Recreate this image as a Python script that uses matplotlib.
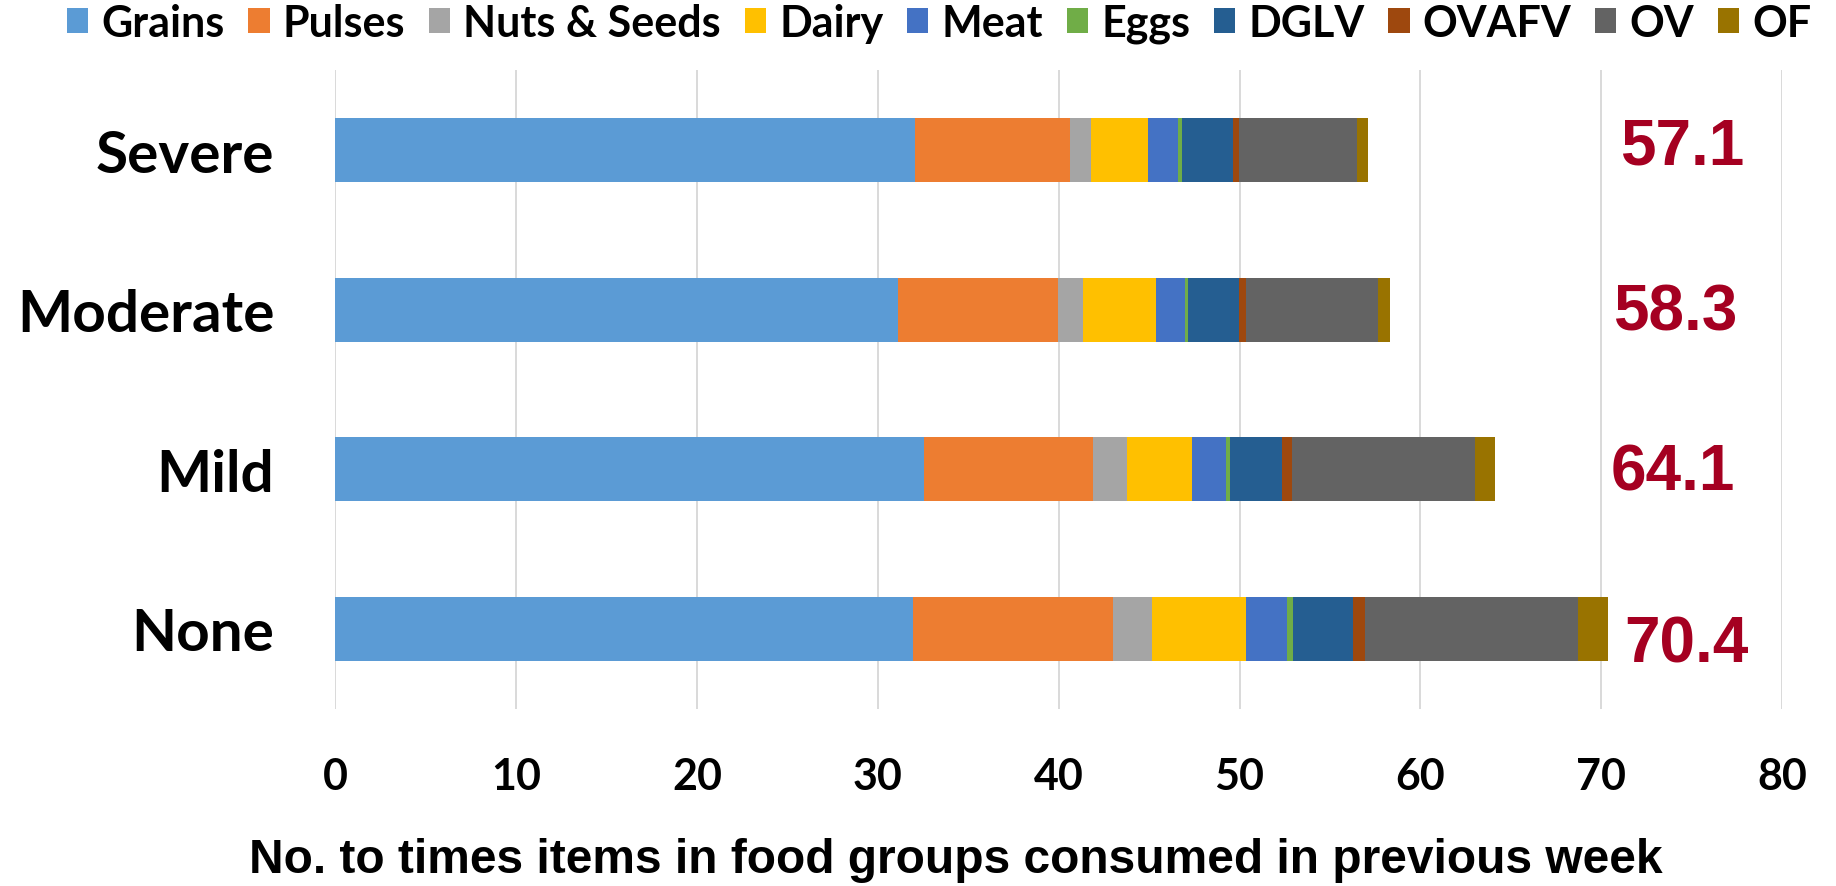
import numpy as np
import matplotlib
matplotlib.use('Agg')
import matplotlib.pyplot as plt
from matplotlib.patches import Patch

# food insecurity levels, top to bottom
levels = ["Severe", "Moderate", "Mild", "None"]

groups = ["Grains", "Pulses", "Nuts & Seeds", "Dairy", "Meat", "Eggs",
          "DGLV", "OVAFV", "OV", "OF"]

grains = [32.06, 31.09, 32.56, 31.92]
pulses = [8.55, 8.85, 9.33, 11.07]
nuts_seeds = [1.15, 1.42, 1.86, 2.18]
dairy = [3.20, 4.04, 3.61, 5.17]
meat = [1.64, 1.56, 1.88, 2.29]
eggs = [0.22, 0.17, 0.24, 0.34]
dglv = [2.80, 2.85, 2.86, 3.33]
ovafv = [0.34, 0.38, 0.54, 0.62]
ov = [6.52, 7.29, 10.14, 11.78]
of = [0.62, 0.65, 1.08, 1.70]

series = [grains, pulses, nuts_seeds, dairy, meat, eggs, dglv, ovafv, ov, of]
colors = ["#5B9BD5", "#ED7D31", "#A5A5A5", "#FFC000", "#4472C4",
          "#70AD47", "#255E91", "#9E480E", "#636363", "#997300"]

xticks = [0, 10, 20, 30, 40, 50, 60, 70, 80]

cal = "Lato"
arial = "Liberation Sans"

fig = plt.figure(figsize=(18.36, 8.87), dpi=100)
ax = fig.add_axes([0.1827, 0.1998, 0.7879, 0.7199])

y = np.arange(len(levels))
left = np.zeros(len(levels))
for vals, c, name in zip(series, colors, groups):
    ax.barh(y, vals, left=left, height=0.4, color=c, label=name,
            linewidth=0, zorder=3)
    left += np.array(vals)

ax.set_xlim(0, 80)
ax.set_ylim(3.5, -0.5)
ax.set_xticks(xticks)
ax.set_xticklabels([str(t) for t in xticks], fontsize=31, fontweight='bold',
                   fontfamily=cal)
ax.set_yticks(y)
ax.set_yticklabels(levels, fontsize=42, fontweight='bold', fontfamily=cal)
ax.tick_params(axis='x', length=0, pad=34)
ax.tick_params(axis='y', length=0, pad=44)
ax.grid(axis='x', color='#D9D9D9', linewidth=1.4, zorder=0)
ax.set_axisbelow(True)
for s in ax.spines.values():
    s.set_visible(False)

# total per level, written to the right of each bar
label_x = [74.5, 74.07, 73.96, 74.7]
nudge = [-0.056, -0.019, -0.019, 0.063]
for i, tot in enumerate(left):
    ax.text(label_x[i], i + nudge[i] + 0.143, f"{tot:.1f}", ha='center',
            va='baseline', fontsize=46, fontweight='bold', fontfamily=arial,
            color='#A50021', zorder=4)

fig.text(0.5207, 1 - 861 / 887,
         "No. to times items in food groups consumed in previous week",
         ha='center', va='center', fontsize=34.5, fontweight='bold',
         fontfamily=arial)

handles = [Patch(facecolor=c, edgecolor='none', label=g)
           for g, c in zip(groups, colors)]
fig.legend(handles=handles, loc='center', bbox_to_anchor=(0.5115, 1 - 24 / 887),
           ncol=10, frameon=False, prop={'family': cal, 'weight': 'bold', 'size': 31},
           handlelength=0.5, handleheight=0.5, handletextpad=0.3,
           columnspacing=0.55, borderaxespad=0, borderpad=0)

fig.savefig("out.png", dpi=100)
